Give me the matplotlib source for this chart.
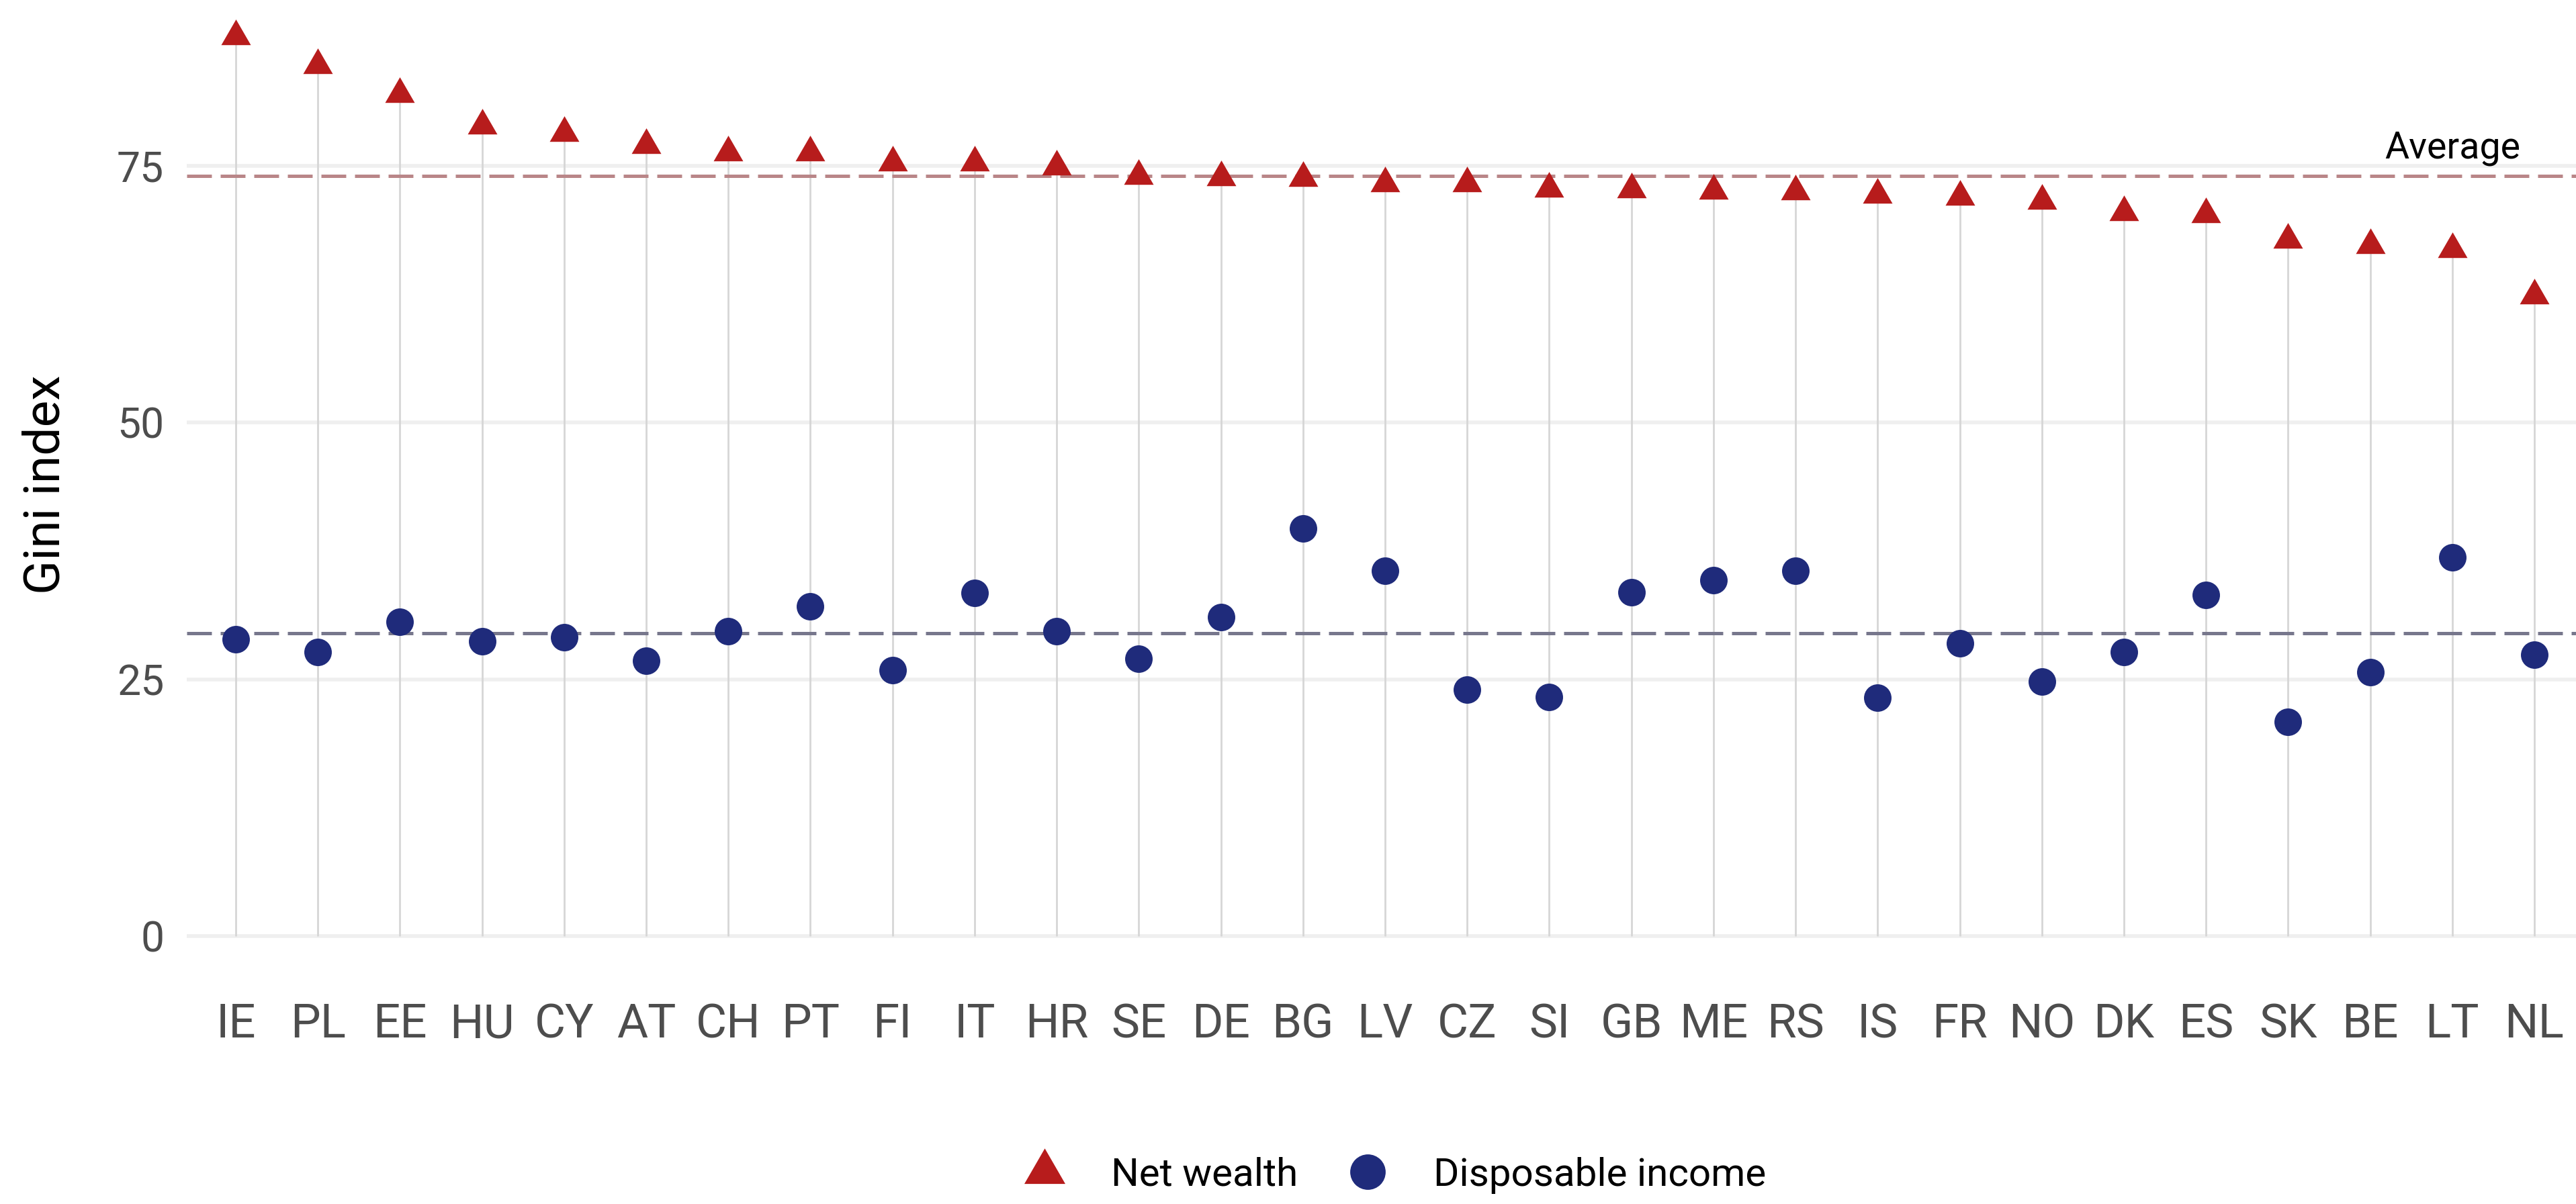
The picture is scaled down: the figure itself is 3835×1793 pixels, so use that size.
import numpy as np
import matplotlib
matplotlib.use('Agg')
import matplotlib.pyplot as plt
from matplotlib.path import Path
from matplotlib.lines import Line2D

plt.rcParams['font.family'] = ['Roboto', 'DejaVu Sans']
plt.rcParams['lines.scale_dashes'] = False

# Gini index by country (sorted by net wealth)
countries = ['IE', 'PL', 'EE', 'HU', 'CY', 'AT', 'CH', 'PT', 'FI', 'IT', 'HR', 'SE', 'DE', 'BG',
             'LV', 'CZ', 'SI', 'GB', 'ME', 'RS', 'IS', 'FR', 'NO', 'DK', 'ES', 'SK', 'BE', 'LT', 'NL']
net_wealth = [87.6, 84.8, 82.0, 78.9, 78.2, 77.0, 76.3, 76.3, 75.3, 75.3, 74.9, 74.0, 73.9, 73.8,
              73.3, 73.3, 72.8, 72.7, 72.6, 72.5, 72.2, 72.0, 71.6, 70.5, 70.3, 67.8, 67.3, 66.9, 62.4]
disp_income = [28.9, 27.7, 30.6, 28.7, 29.1, 26.8, 29.7, 32.1, 25.9, 33.4, 29.7, 27.0, 31.1, 39.7,
               35.6, 24.0, 23.3, 33.5, 34.7, 35.6, 23.2, 28.5, 24.8, 27.7, 33.2, 20.9, 25.7, 36.9, 27.4]
yticks = [0, 25, 50, 75]

red = '#b71c1c'
navy = '#1f2b7b'

avg_wealth = np.mean(net_wealth)
avg_income = np.mean(disp_income)

# equilateral triangle centred on its centroid (like R's pch 17)
tri = Path([(0, 1), (-0.866, -0.5), (0.866, -0.5), (0, 1)],
           [Path.MOVETO, Path.LINETO, Path.LINETO, Path.CLOSEPOLY])

fig = plt.figure(figsize=(38.35, 17.93), dpi=100)
ax = fig.add_axes([0.0724, 0.1849, 0.9276, 0.8151])

x = np.arange(len(countries))

for yv in yticks:
    ax.axhline(yv, color='#efefef', lw=4, zorder=0)
ax.vlines(x, 0, net_wealth, color='#d6d6d6', lw=2, zorder=1)

dash = (0, (26.6, 9.4))
ax.axhline(avg_wealth, color='#b98688', lw=3.6, ls=dash, zorder=2)
ax.axhline(avg_income, color='#77778c', lw=3.6, ls=dash, zorder=2)

ax.plot(x, net_wealth, ls='', marker=tri, ms=36.6, color=red, mew=0, zorder=3)
ax.plot(x, disp_income, ls='', marker='o', ms=29.5, color=navy, mew=0, zorder=3)

ax.text(27, avg_wealth + 1.75, 'Average', ha='center', va='baseline', fontsize=40, color='black')

ax.set_xlim(-0.6, 28.507)
ax.set_ylim(-4.38, 91.14)
ax.set_xticks(x)
ax.set_xticklabels(countries)
ax.set_yticks(yticks)
ax.tick_params(axis='x', length=0, pad=22, labelsize=51, labelcolor='#4d4d4d')
ax.tick_params(axis='y', length=0, pad=24, labelsize=45, labelcolor='#4d4d4d')
for s in ax.spines.values():
    s.set_visible(False)

fig.text(68 / 3835, 1 - 722 / 1793, 'Gini index', rotation=90, ha='center', va='center',
         fontsize=54, color='black')

handles = [Line2D([], [], ls='', marker=tri, ms=50.7, color=red, mew=0),
           Line2D([], [], ls='', marker='o', ms=38, color=navy, mew=0)]
fig.legend(handles, ['Net wealth', 'Disposable income'], loc='center',
           bbox_to_anchor=(2077 / 3835, 1 - 1750 / 1793), ncol=2, frameon=False,
           fontsize=42, handlelength=1.07, handletextpad=1.15, columnspacing=1.25,
           borderpad=0)

fig.savefig('out.png', dpi=100)
